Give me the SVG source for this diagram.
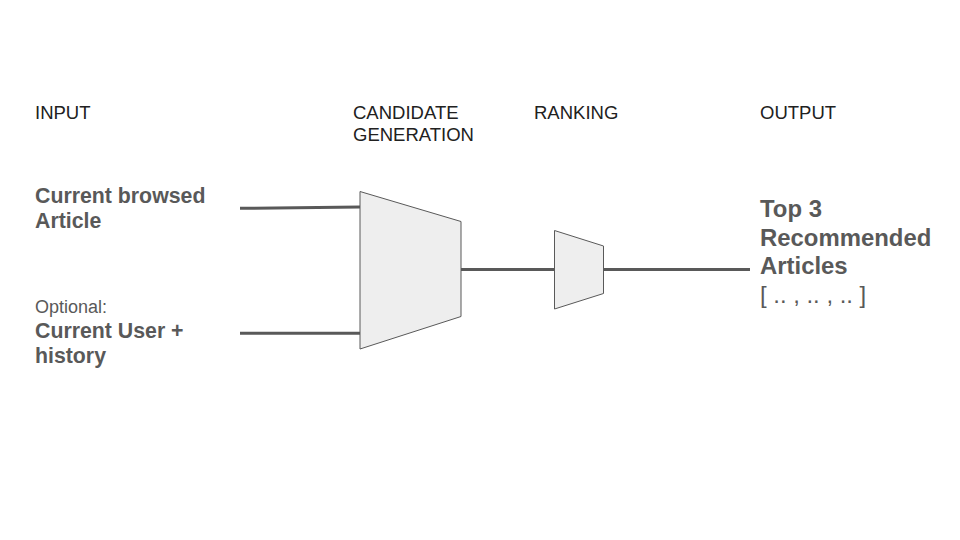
<svg xmlns="http://www.w3.org/2000/svg" width="960" height="540" viewBox="0 0 960 540">
<style>
.h{font-family:"Liberation Sans",Arial,sans-serif;font-size:18.5px;fill:#212121}
.b{font-family:"Liberation Sans",Arial,sans-serif;font-weight:bold;fill:#595959}
.n{font-family:"Liberation Sans",Arial,sans-serif;fill:#595959}
.line{stroke:#595959;stroke-width:3;fill:none}
.trap{fill:#eeeeee;stroke:#595959;stroke-width:1}
</style>
<rect width="960" height="540" fill="#ffffff"/>
<g id="headers">
<text class="h" x="35" y="119">INPUT</text>
<text class="h" x="353" y="119">CANDIDATE</text>
<text class="h" x="353" y="141">GENERATION</text>
<text class="h" x="534" y="119">RANKING</text>
<text class="h" x="760" y="119">OUTPUT</text>
</g>
<g id="connectors">
<line class="line" x1="240" y1="208.3" x2="360" y2="207"/>
<line class="line" x1="240" y1="333.3" x2="360" y2="333.3"/>
<line class="line" x1="461" y1="269.5" x2="555" y2="269.5"/>
<line class="line" x1="604" y1="269.5" x2="750" y2="269.5"/>
</g>
<g id="input-article">
<text class="b" font-size="21.3" x="35" y="202.5">Current browsed</text>
<text class="b" font-size="21.3" x="35" y="227.5">Article</text>
</g>
<g id="input-user">
<text class="n" font-size="18" x="35" y="313">Optional:</text>
<text class="b" font-size="21.3" x="35" y="337.5">Current User +</text>
<text class="b" font-size="21.3" x="35" y="362.5">history</text>
</g>
<g id="candidate-generation">
<polygon class="trap" points="360,191.5 461,221.5 461,316.5 360,349"/>
</g>
<g id="ranking">
<polygon class="trap" points="554.5,230.5 603.5,246 603.5,293.5 554.5,309"/>
</g>
<g id="output">
<text class="b" font-size="23.9" x="760" y="216.5">Top 3</text>
<text class="b" font-size="23.9" x="760" y="245.5">Recommended</text>
<text class="b" font-size="23.9" x="760" y="274">Articles</text>
<text class="n" font-size="23.9" x="760" y="302.5">[ .. , .. , .. ]</text>
</g>
</svg>
